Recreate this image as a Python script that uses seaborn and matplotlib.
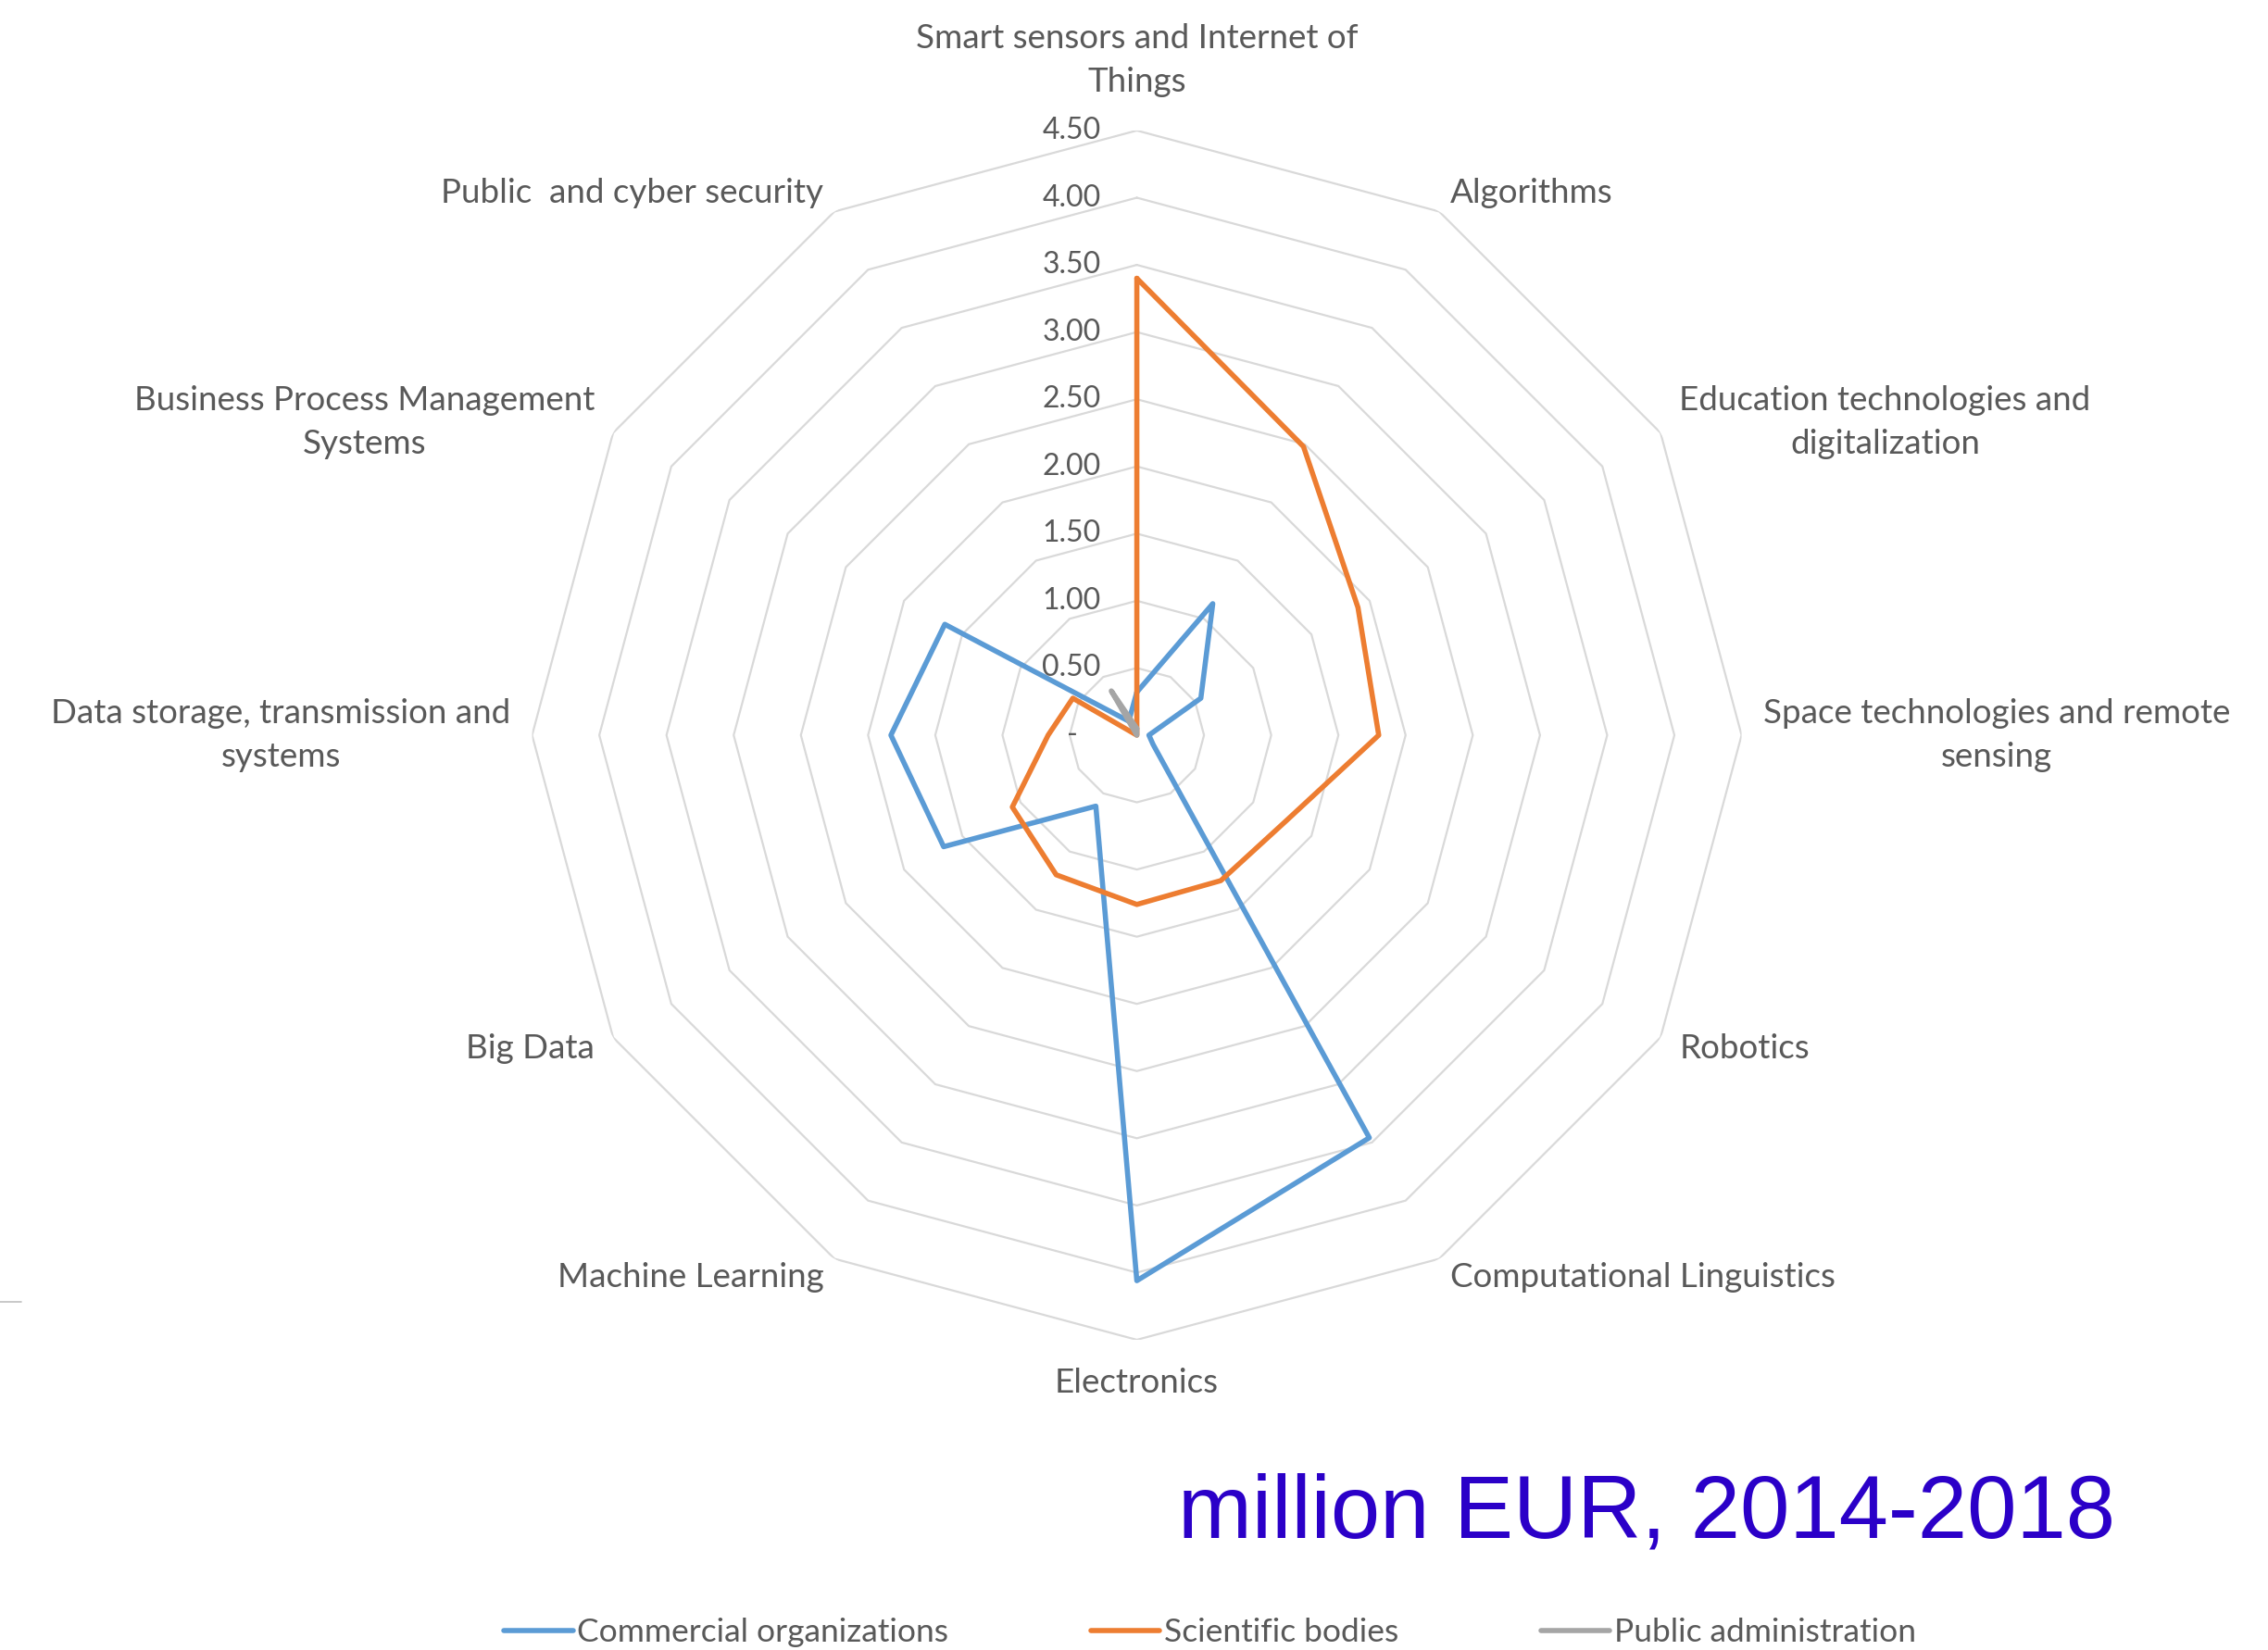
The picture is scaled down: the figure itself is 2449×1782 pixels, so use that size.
import numpy as np
import pandas as pd
import matplotlib
matplotlib.use("Agg")
import matplotlib.pyplot as plt
from matplotlib.lines import Line2D
from matplotlib.transforms import offset_copy
import seaborn as sns

# data (million EUR, 2014-2018)
categories = [
    "Smart sensors and Internet of\nThings",
    "Algorithms",
    "Education technologies and\ndigitalization",
    "Space technologies and remote\nsensing",
    "Robotics",
    "Computational Linguistics",
    "Electronics",
    "Machine Learning",
    "Big Data",
    "Data storage, transmission and\nsystems",
    "Business Process Management\nSystems",
    "Public  and cyber security",
]
commercial = [0.32, 1.13, 0.55, 0.09, 0.14, 3.46, 4.06, 0.61, 1.66, 1.83, 1.65, 0.12]
scientific = [3.40, 2.48, 1.90, 1.80, 1.28, 1.25, 1.26, 1.20, 1.07, 0.66, 0.55, 0.00]
public_admin = [0.05, 0.00, 0.00, 0.00, 0.00, 0.00, 0.00, 0.00, 0.00, 0.00, 0.00, 0.38]

series_names = ["Commercial organizations", "Scientific bodies", "Public administration"]
series_colors = ["#5B9BD5", "#ED7D31", "#A5A5A5"]
tick_values = [0, 0.5, 1.0, 1.5, 2.0, 2.5, 3.0, 3.5, 4.0, 4.5]
tick_labels = ["-", "0.50", "1.00", "1.50", "2.00", "2.50", "3.00", "3.50", "4.00", "4.50"]

TEXT = "#595959"
GRID = "#D9D9D9"
RMAX = 4.5

sns.set_style("white")
plt.rcParams["font.family"] = ["Lato", "DejaVu Sans"]

n = len(categories)
theta = np.linspace(0, 2 * np.pi, n, endpoint=False)
theta_closed = np.append(theta, 2 * np.pi)

# long frame for seaborn, polygons closed by repeating the first value
rows = []
for name, vals in zip(series_names, [commercial, scientific, public_admin]):
    closed = list(vals) + [vals[0]]
    for t, v in zip(theta_closed, closed):
        rows.append({"theta": t, "value": v, "series": name})
df = pd.DataFrame(rows)

fig = plt.figure(figsize=(24.49, 17.82), dpi=100)
ax = fig.add_axes([0.2346, 0.188, 0.5333, 0.7329], projection="polar")
ax.set_theta_zero_location("N")
ax.set_theta_direction(-1)
ax.grid(False)
ax.spines["polar"].set_visible(False)

# polygon grid rings
for lvl in tick_values[1:]:
    ax.plot(theta_closed, [lvl] * (n + 1), color=GRID, lw=1.6, zorder=1)

sns.lineplot(data=df, x="theta", y="value", hue="series", hue_order=series_names,
             palette=series_colors, sort=False, estimator=None, legend=False,
             linewidth=4, ax=ax, zorder=3)

ax.set_ylim(0, RMAX)
ax.set_xticks([])
ax.set_yticks([])
ax.set_xlabel("")
ax.set_ylabel("")

# value labels along the vertical axis
tick_tr = offset_copy(ax.transData, fig=fig, x=-39, y=0, units="dots")
for v, lab in zip(tick_values, tick_labels):
    ax.text(0, v, lab + ("   " if lab == "-" else ""), transform=tick_tr,
            ha="right", va="center", fontsize=23, color=TEXT)

# category labels
for t, lab in zip(theta, categories):
    deg = np.degrees(t)
    r_lab = RMAX + 0.16
    if np.isclose(deg, 0):
        ha, va = "center", "bottom"
        r_lab = RMAX + 0.25
    elif np.isclose(deg, 180):
        ha, va = "center", "top"
        r_lab = RMAX + 0.21
    elif deg < 180:
        ha, va = "left", "center"
    else:
        ha, va = "right", "center"
    ax.text(t, r_lab, lab, ha=ha, va=va, multialignment="center",
            fontsize=26.5, color=TEXT, linespacing=1.5)

fig.text(0.726, 0.068, "million EUR, 2014-2018", ha="center", va="baseline",
         fontsize=69, color="#2B00C8", family=["Liberation Sans", "DejaVu Sans"])

handles = [Line2D([0], [0], color=c, lw=4) for c in series_colors]
leg = fig.legend(handles, series_names, loc="center", bbox_to_anchor=(0.5335, 0.0105),
                 ncol=3, frameon=False, fontsize=25.5, handlelength=2.1,
                 handletextpad=0.12, columnspacing=4.35)
for txt in leg.get_texts():
    txt.set_color(TEXT)

# small stray rule at the left edge of the slide
fig.add_artist(Line2D([0, 0.0095], [0.211, 0.211], transform=fig.transFigure,
                      color="#BFBFBF", lw=1.2))

fig.savefig("out.png", dpi=100, facecolor="white")
